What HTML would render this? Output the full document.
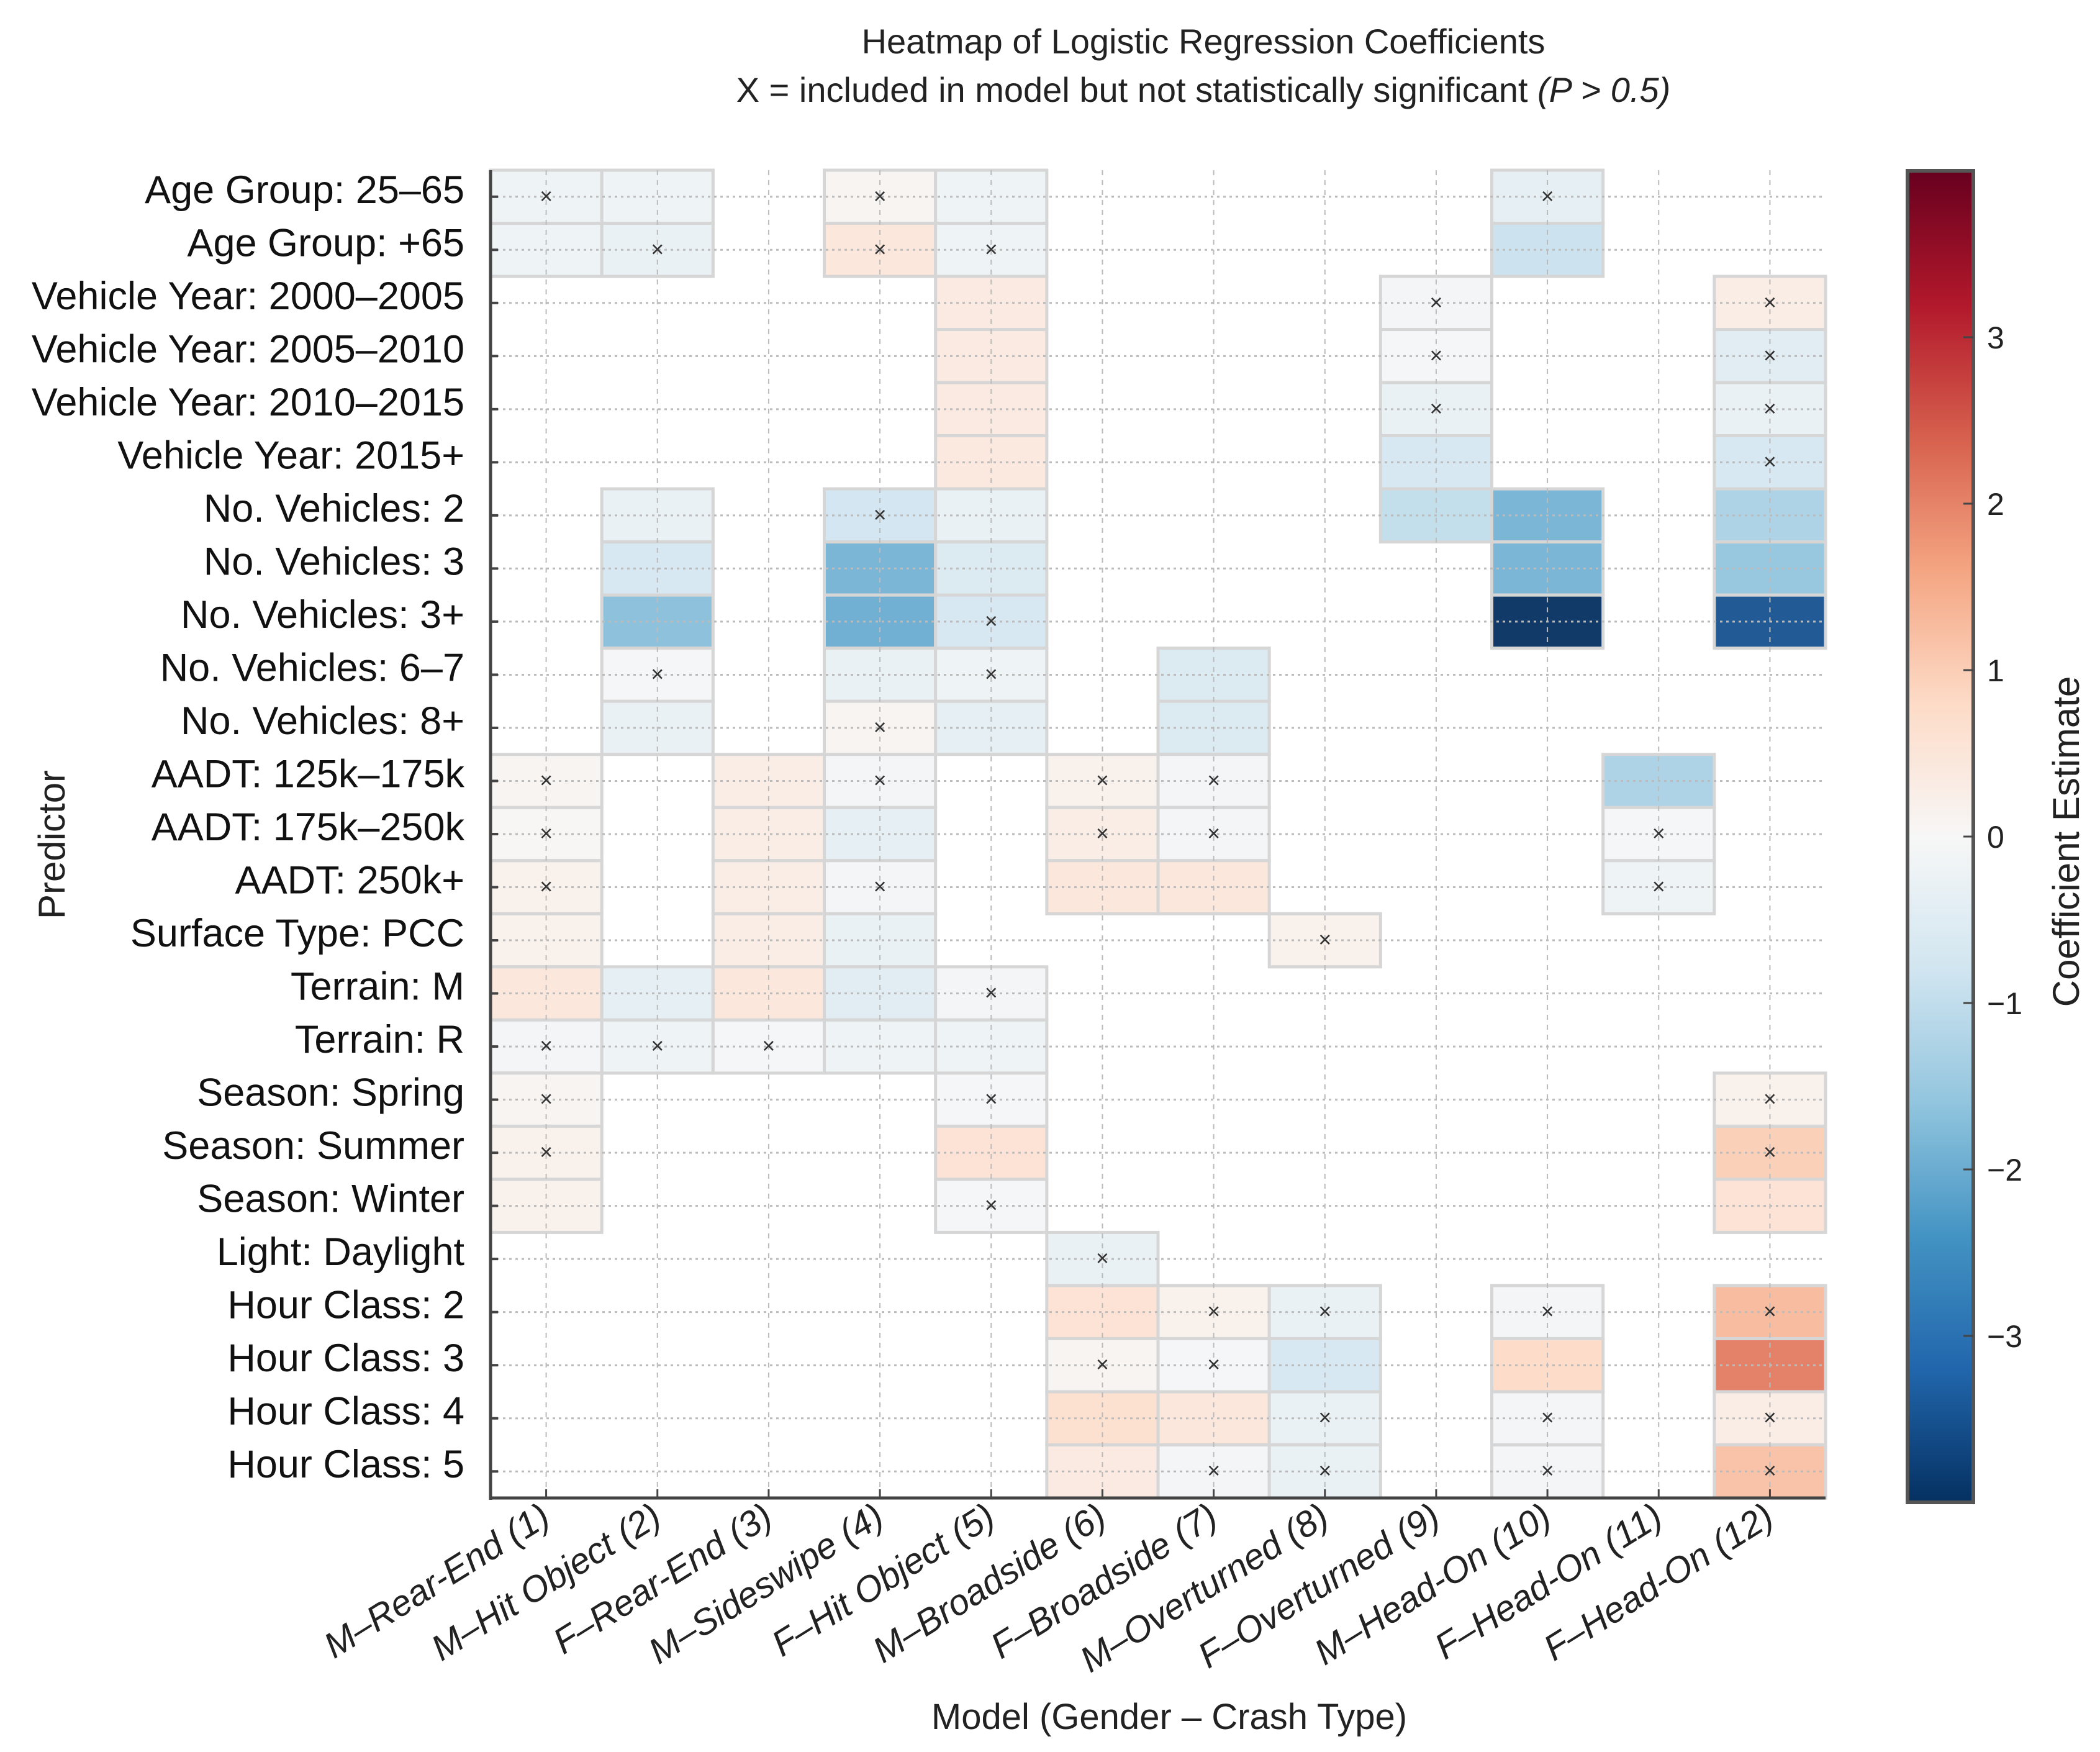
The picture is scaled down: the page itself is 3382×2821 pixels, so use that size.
<!DOCTYPE html>
<html><head><meta charset="utf-8"><style>
html,body{margin:0;padding:0;background:#fff;}
svg{display:block;font-family:"Liberation Sans",sans-serif;}
</style></head><body>
<svg id="chart" width="3382" height="2821" viewBox="0 0 3382 2821" xmlns="http://www.w3.org/2000/svg">
<rect width="3382" height="2821" fill="#fff"/>
<text x="1938" y="86" font-size="56" text-anchor="middle" fill="#222">Heatmap of Logistic Regression Coefficients</text>
<text x="1938" y="164" font-size="56" text-anchor="middle" fill="#222">X = included in model but not statistically significant <tspan font-style="italic">(P &gt; 0.5)</tspan></text>
<g id="cells"></g>
<g id="grid"></g>
<g id="marks"></g>
<g id="axes"></g>
<g id="cbar"></g>
<text x="1883" y="2784" font-size="58" text-anchor="middle" fill="#222">Model (Gender – Crash Type)</text>
<text x="0" y="0" font-size="60" text-anchor="middle" fill="#222" transform="translate(104,1360) rotate(-90)">Predictor</text>
<text x="0" y="0" font-size="60" text-anchor="middle" fill="#222" transform="translate(3348,1355) rotate(-90)">Coefficient Estimate</text>
</svg>
<script>
const models = ["M–Rear-End (1)","M–Hit Object (2)","F–Rear-End (3)","M–Sideswipe (4)","F–Hit Object (5)","M–Broadside (6)","F–Broadside (7)","M–Overturned (8)","F–Overturned (9)","M–Head-On (10)","F–Head-On (11)","F–Head-On (12)"];
const predictors = ["Age Group: 25–65","Age Group: +65","Vehicle Year: 2000–2005","Vehicle Year: 2005–2010","Vehicle Year: 2010–2015","Vehicle Year: 2015+","No. Vehicles: 2","No. Vehicles: 3","No. Vehicles: 3+","No. Vehicles: 6–7","No. Vehicles: 8+","AADT: 125k–175k","AADT: 175k–250k","AADT: 250k+","Surface Type: PCC","Terrain: M","Terrain: R","Season: Spring","Season: Summer","Season: Winter","Light: Daylight","Hour Class: 2","Hour Class: 3","Hour Class: 4","Hour Class: 5"];
const cellRows = [0,0,0,0,0, 1,1,1,1,1, 2,2,2, 3,3,3, 4,4,4, 5,5,5, 6,6,6,6,6,6, 7,7,7,7,7, 8,8,8,8,8, 9,9,9,9, 10,10,10,10, 11,11,11,11,11,11, 12,12,12,12,12,12, 13,13,13,13,13,13, 14,14,14,14, 15,15,15,15,15, 16,16,16,16,16, 17,17,17, 18,18,18, 19,19,19, 20, 21,21,21,21,21, 22,22,22,22,22, 23,23,23,23,23, 24,24,24,24,24];
const cellCols = [0,1,3,4,9, 0,1,3,4,9, 4,8,11, 4,8,11, 4,8,11, 4,8,11, 1,3,4,8,9,11, 1,3,4,9,11, 1,3,4,9,11, 1,3,4,6, 1,3,4,6, 0,2,3,5,6,10, 0,2,3,5,6,10, 0,2,3,5,6,10, 0,2,3,7, 0,1,2,3,4, 0,1,2,3,4, 0,4,11, 0,4,11, 0,4,11, 5, 5,6,7,9,11, 5,6,7,9,11, 5,6,7,9,11, 5,6,7,9,11];
const cellValues = [-0.2,-0.2,0.1,-0.2,-0.4, -0.2,-0.3,0.5,-0.2,-0.9, 0.4,-0.1,0.3, 0.4,-0.05,-0.5, 0.4,-0.3,-0.3, 0.45,-0.7,-0.7, -0.3,-0.8,-0.3,-1.0,-1.9,-1.3, -0.7,-1.9,-0.6,-1.9,-1.6, -1.7,-2.0,-0.7,-4.0,-3.5, -0.05,-0.3,-0.2,-0.6, -0.3,0.1,-0.4,-0.6, 0.1,0.3,-0.1,0.2,-0.1,-1.3, 0.05,0.3,-0.4,0.3,-0.1,-0.05, 0.2,0.3,-0.1,0.5,0.5,-0.2, 0.2,0.3,-0.3,0.2, 0.5,-0.4,0.5,-0.5,-0.1, -0.1,-0.2,-0.05,-0.2,-0.2, 0.1,-0.05,0.2, 0.2,0.6,1.0, 0.2,-0.05,0.6, -0.3, 0.6,0.2,-0.3,-0.1,1.3, 0.1,-0.05,-0.7,0.8,2.1, 0.7,0.5,-0.3,-0.1,0.3, 0.4,-0.1,-0.3,-0.1,1.2];
const cellNS = [1,0,1,0,1, 0,1,1,1,0, 0,1,1, 0,1,1, 0,1,1, 0,0,1, 0,1,0,0,0,0, 0,0,0,0,0, 0,0,1,0,0, 1,0,1,0, 0,1,0,0, 1,0,1,1,1,0, 1,0,0,1,1,1, 1,0,1,0,0,1, 0,0,0,1, 0,0,0,0,1, 1,1,1,0,0, 1,1,1, 1,0,1, 0,1,0, 1, 0,1,1,1,1, 1,1,0,0,0, 0,0,1,1,1, 0,1,1,1,1];
const cbTicks = [3,2,1,0,-1,-2,-3];
const vmin = -4, vmax = 4;

const X0=790, X1=2940, Y0=274, Y1=2412;
const cw=(X1-X0)/models.length, rh=(Y1-Y0)/predictors.length;
const xPos = c => X0 + c*cw;
const yPos = r => Y0 + r*rh;
const NS="http://www.w3.org/2000/svg";
function mk(tag, attrs, parent){const e=document.createElementNS(NS,tag);for(const k in attrs)e.setAttribute(k,attrs[k]);parent.appendChild(e);return e;}
const stops=["#053061","#2166ac","#4393c3","#92c5de","#d1e5f0","#f7f7f7","#fddbc7","#f4a582","#d6604d","#b2182b","#67001f"];
function hex(h){return [1,3,5].map(i=>parseInt(h.substr(i,2),16));}
function cmap(v, alpha){
  let t=(v-vmin)/(vmax-vmin); t=Math.max(0,Math.min(1,t));
  const p=t*(stops.length-1), i=Math.min(Math.floor(p),stops.length-2), f=p-i;
  const a=hex(stops[i]), b=hex(stops[i+1]);
  const c=a.map((x,k)=>x+(b[k]-x)*f).map(x=>Math.round(x*alpha+255*(1-alpha)));
  return `rgb(${c[0]},${c[1]},${c[2]})`;
}
const cells=document.getElementById('cells');
cellValues.forEach((v,i)=>{
  const r=mk('rect',{x:xPos(cellCols[i]),y:yPos(cellRows[i]),width:cw,height:rh,fill:cmap(v,0.95),stroke:'#d6d6d6','stroke-width':5},cells);
  
  
});
const grid=document.getElementById('grid');
models.forEach((m,c)=>{
  const x=xPos(c)+cw/2;
  const l=mk('line',{x1:x,y1:Y0,x2:x,y2:Y1,stroke:'#bbb','stroke-width':2,'stroke-dasharray':'8 8'},grid);
  
  
});
predictors.forEach((p,r)=>{
  const y=yPos(r)+rh/2;
  const l=mk('line',{x1:X0,y1:y,x2:X1,y2:y,stroke:'#bbb','stroke-width':3,'stroke-dasharray':'4 6'},grid);
  
  
});
const marks=document.getElementById('marks');
cellValues.forEach((v,i)=>{
  if(!cellNS[i])return;
  const t=mk('text',{x:xPos(cellCols[i])+cw/2,y:yPos(cellRows[i])+rh/2+11,'font-size':36,'text-anchor':'middle',fill:'#333'},marks);
  t.textContent='×';
  
  
});
const axes=document.getElementById('axes');
mk('line',{x1:X0,y1:Y0,x2:X0,y2:Y1+3,stroke:'#444','stroke-width':5},axes);
mk('line',{x1:X0-2,y1:Y1,x2:X1,y2:Y1,stroke:'#444','stroke-width':5},axes);
predictors.forEach((p,r)=>{
  const y=yPos(r)+rh/2;
  mk('line',{x1:X0,y1:y,x2:X0+12,y2:y,stroke:'#444','stroke-width':4},axes);
  const t=mk('text',{x:748,y:y+10,'font-size':63,'text-anchor':'end',fill:'#111'},axes);
  t.textContent=p;
  
  
});
models.forEach((m,c)=>{
  const x=xPos(c)+cw/2;
  mk('line',{x1:x,y1:Y1,x2:x,y2:Y1-14,stroke:'#444','stroke-width':3},axes);
  const t=mk('text',{x:0,y:0,'font-size':58,'text-anchor':'end','font-style':'italic',fill:'#222',transform:`translate(${x+10},${Y1+40}) rotate(-32)`},axes);
  t.textContent=m;
  
  
});
const cb=document.getElementById('cbar');
const CBX=3072, CBW=106, CBY0=275, CBY1=2419;
const defs=mk('defs',{},cb);
const g=mk('linearGradient',{id:'cbg',x1:0,y1:1,x2:0,y2:0},defs);
for(let i=0;i<=40;i++){const v=vmin+(vmax-vmin)*i/40;mk('stop',{offset:i/40,'stop-color':cmap(v,1)},g);}
mk('rect',{x:CBX,y:CBY0,width:CBW,height:CBY1-CBY0,fill:'url(#cbg)',stroke:'#555','stroke-width':6},cb);
const cbY = v => CBY1 - (v-vmin)/(vmax-vmin)*(CBY1-CBY0);
cbTicks.forEach(v=>{
  const y=cbY(v);
  mk('line',{x1:CBX+CBW-16,y1:y,x2:CBX+CBW,y2:y,stroke:'#444','stroke-width':3},cb);
  const t=mk('text',{x:CBX+CBW+22,y:y+18,'font-size':50,fill:'#222'},cb);
  t.textContent=v<0?'−'+Math.abs(v):String(v);
  
  
});
</script>
</body></html>
